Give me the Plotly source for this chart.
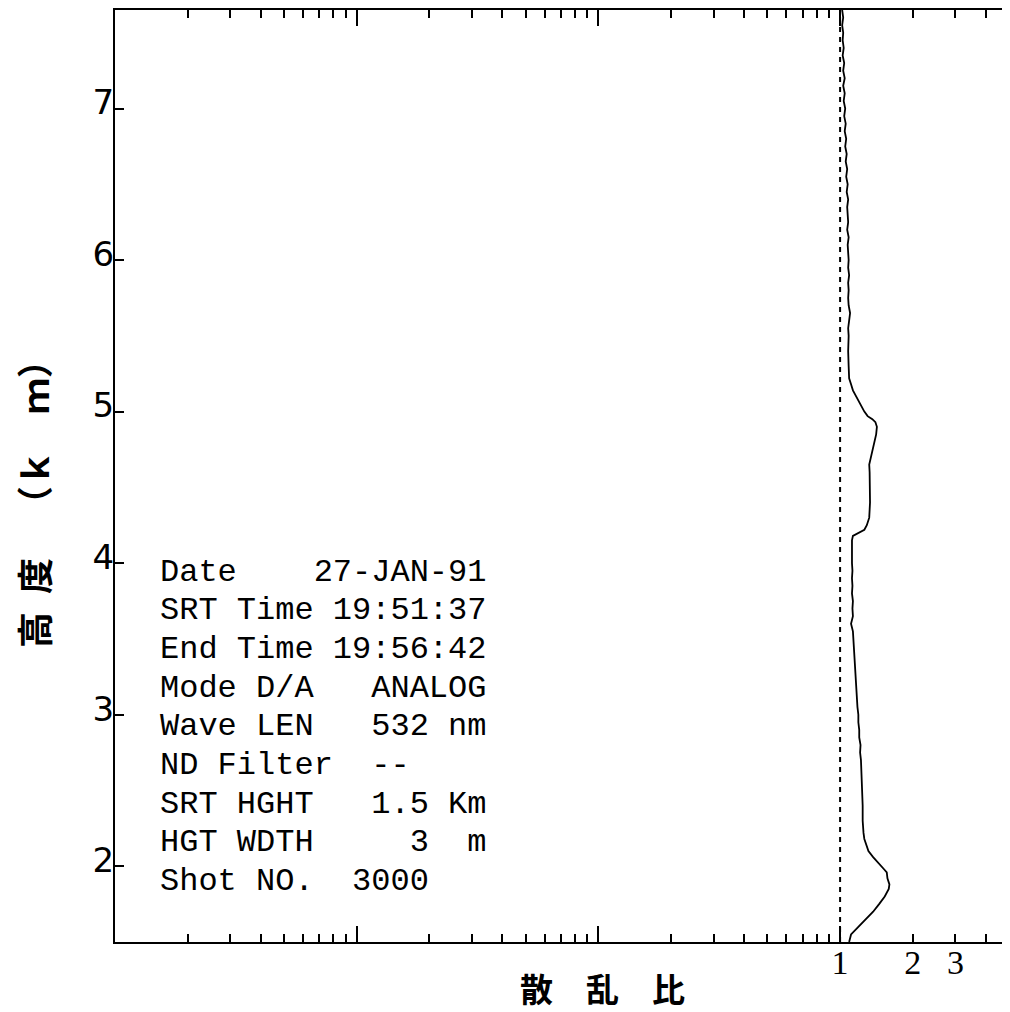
import numpy as np
import plotly.graph_objects as go

# ---------------- data ----------------
HEIGHT_KM = [
    1.50, 1.55, 1.60, 1.65, 1.70, 1.75, 1.80, 1.85, 1.88, 1.92, 1.96, 1.98,
    2.02, 2.06, 2.10, 2.14, 2.18, 2.22, 2.26, 2.30, 2.40, 2.50, 2.60, 2.66,
    2.70, 2.75, 2.80, 2.85, 2.90, 2.95, 3.00, 3.05, 3.10, 3.15, 3.20, 3.25,
    3.30, 3.35, 3.40, 3.45, 3.50, 3.55, 3.60, 3.65, 3.70, 3.75, 3.80, 3.85,
    3.90, 3.95, 4.00, 4.05, 4.10, 4.15, 4.18, 4.20, 4.22, 4.25, 4.30, 4.40,
    4.50, 4.60, 4.65, 4.70, 4.75, 4.80, 4.85, 4.90, 4.93, 4.95, 4.97, 5.00,
    5.03, 5.06, 5.10, 5.14, 5.18, 5.22, 5.30, 5.40, 5.50, 5.55, 5.60, 5.65,
    5.70, 5.75, 5.80, 5.85, 5.90, 5.95, 6.00, 6.05, 6.10, 6.15, 6.20, 6.25,
    6.30, 6.35, 6.40, 6.45, 6.50, 6.55, 6.60, 6.65, 6.70, 6.75, 6.80, 6.85,
    6.90, 6.95, 7.00, 7.05, 7.10, 7.15, 7.20, 7.25, 7.30, 7.35, 7.40, 7.45,
    7.50, 7.55, 7.60, 7.65,
]
SCATTER_RATIO = [
    1.09, 1.11, 1.19, 1.28, 1.37, 1.45, 1.53, 1.59, 1.60, 1.57, 1.56, 1.52,
    1.44, 1.37, 1.31, 1.28, 1.26, 1.25, 1.245, 1.24, 1.24, 1.235, 1.23, 1.23,
    1.22, 1.21, 1.215, 1.20, 1.20, 1.19, 1.19, 1.18, 1.175, 1.17, 1.165, 1.16,
    1.155, 1.15, 1.145, 1.14, 1.135, 1.13, 1.11, 1.13, 1.125, 1.13, 1.12, 1.125,
    1.12, 1.125, 1.12, 1.12, 1.125, 1.12, 1.13, 1.19, 1.26, 1.29, 1.32, 1.33,
    1.33, 1.325, 1.32, 1.34, 1.36, 1.38, 1.41, 1.42, 1.40, 1.36, 1.30, 1.26,
    1.23, 1.20, 1.165, 1.13, 1.11, 1.09, 1.085, 1.08, 1.085, 1.08, 1.09, 1.10,
    1.085, 1.08, 1.085, 1.08, 1.09, 1.08, 1.085, 1.08, 1.075, 1.085, 1.07, 1.08,
    1.075, 1.07, 1.08, 1.065, 1.075, 1.06, 1.07, 1.055, 1.065, 1.05, 1.06, 1.045,
    1.055, 1.04, 1.05, 1.035, 1.045, 1.03, 1.045, 1.03, 1.04, 1.025, 1.035, 1.025,
    1.03, 1.02, 1.03, 1.02,
]
REFERENCE_RATIO = 1.0

X_LABEL_VALS = [1, 2, 3]
X_LABEL_TEXT = ["1", "2", "3"]
X_MAJOR_TICKS = [0.001, 0.01, 0.1, 1]
X_EXTRA_MINOR = [2, 3, 4, 5]
Y_TICKS = [2, 3, 4, 5, 6, 7]
Y_TICK_TEXT = ["2", "3", "4", "5", "6", "7"]

INFO_LINES = [
    "Date    27-JAN-91",
    "SRT Time 19:51:37",
    "End Time 19:56:42",
    "Mode D/A   ANALOG",
    "Wave LEN   532 nm",
    "ND Filter  --",
    "SRT HGHT   1.5 Km",
    "HGT WDTH     3  m",
    "Shot NO.  3000",
]
X_TITLE = "散\u2003乱\u2003比"
Y_TITLE = "高\u2002度\u2003（ｋ\u2003ｍ）"

# ---------------- layout constants ----------------
OFF = 8                      # page body margin of the html page
W, H = 1010 - OFF, 1012 - OFF
ML, MR, MT = 115 - OFF, 0, 10 - OFF
MB = H - (942 - OFF)
X_RANGE = [-3, 0.703]
Y_RANGE = [1.5, 7.65]
PW, PH = W - ML - MR, H - MT - MB


def px_to_paper_x(px):
    return (px - OFF - ML) / PW


def px_to_paper_y(py):
    return (H - MB - (py - OFF)) / PH


minor_vals = [k * 10.0 ** d for d in (-3, -2, -1) for k in range(2, 10)] + X_EXTRA_MINOR

fig = go.Figure()

fig.add_trace(go.Scatter(
    x=[REFERENCE_RATIO, REFERENCE_RATIO], y=Y_RANGE,
    mode="lines", line=dict(color="black", width=2, dash="5px,5px"),
    xaxis="x2", yaxis="y", showlegend=False, hoverinfo="skip",
))
fig.add_trace(go.Scatter(
    x=SCATTER_RATIO, y=HEIGHT_KM, mode="lines",
    line=dict(color="black", width=1.8), showlegend=False,
))

axis_common = dict(showgrid=False, zeroline=False)

fig.update_layout(
    width=W, height=H,
    margin=dict(l=ML, r=MR, t=MT, b=MB, pad=0),
    paper_bgcolor="white", plot_bgcolor="white",
    xaxis=dict(
        type="log", range=X_RANGE, **axis_common,
        showline=True, linecolor="black", linewidth=2, mirror="allticks",
        tickmode="array", tickvals=X_MAJOR_TICKS, showticklabels=False,
        ticks="inside", ticklen=16, tickwidth=1.5, tickcolor="black",
        minor=dict(tickmode="array", tickvals=minor_vals, ticks="inside",
                   ticklen=8, tickwidth=1.5, tickcolor="black", showgrid=False),
    ),
    xaxis2=dict(
        type="log", range=X_RANGE, overlaying="x", anchor="y", side="bottom",
        **axis_common, showline=False, ticks="",
        tickmode="array", tickvals=X_LABEL_VALS, ticktext=X_LABEL_TEXT,
        tickfont=dict(family="Liberation Serif", size=34, color="black"),
        ticklabelstandoff=-3,
    ),
    yaxis=dict(
        range=Y_RANGE, **axis_common,
        showline=True, linecolor="black", linewidth=2, mirror=False,
        tickmode="array", tickvals=Y_TICKS, ticktext=Y_TICK_TEXT,
        ticks="inside", ticklen=9, tickwidth=1.5, tickcolor="black",
        tickfont=dict(family="DejaVu Sans", size=34, color="black"),
        ticklabelshift=-6, ticklabelstandoff=-8,
    ),
)

annotations = [
    dict(text=Y_TITLE, xref="paper", yref="paper",
         x=px_to_paper_x(33), y=px_to_paper_y(495), textangle=-90,
         xanchor="center", yanchor="middle", showarrow=False,
         font=dict(family="Noto Sans CJK JP", size=36, color="black", weight="bold")),
    dict(text=X_TITLE, xref="paper", yref="paper",
         x=px_to_paper_x(602), y=px_to_paper_y(988),
         xanchor="center", yanchor="middle", showarrow=False,
         font=dict(family="Noto Sans CJK JP", size=33, color="black", weight="bold")),
]
for i, line in enumerate(INFO_LINES):
    annotations.append(dict(
        text=line.replace(" ", "\u00a0"), xref="paper", yref="paper",
        x=px_to_paper_x(158), y=px_to_paper_y(572 + 38.7 * i),
        xanchor="left", yanchor="middle", showarrow=False,
        font=dict(family="Liberation Mono", size=32, color="black"),
    ))
fig.update_layout(annotations=annotations)

fig.write_html("out.html")
